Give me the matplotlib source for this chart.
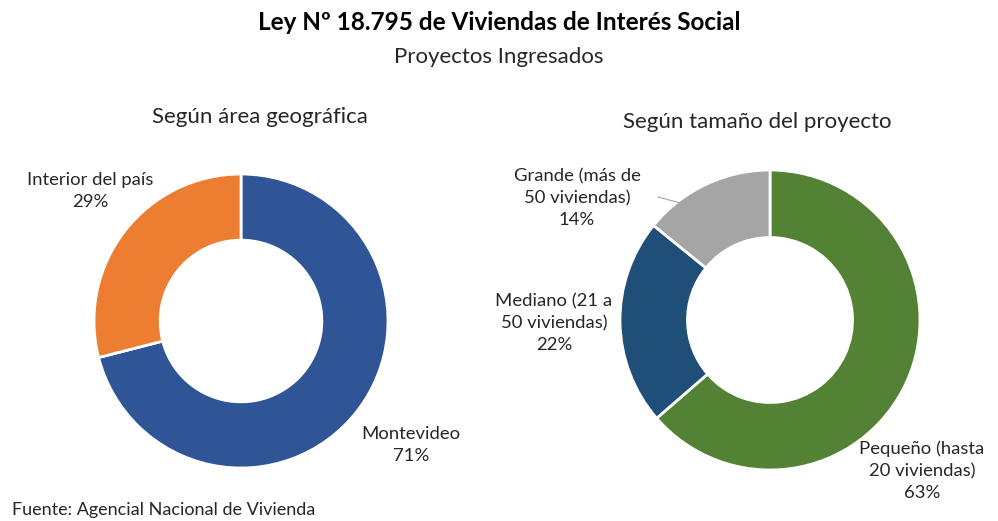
import matplotlib
matplotlib.use("Agg")
import matplotlib.pyplot as plt

plt.rcParams['font.family'] = ['Lato', 'DejaVu Sans']

# datos
area_labels = ["Montevideo", "Interior del país"]
area_values = [71, 29]
area_colors = ["#2F5597", "#ED7D31"]

tam_labels = ["Pequeño (hasta\n20 viviendas)", "Mediano (21 a\n50 viviendas)", "Grande (más de\n50 viviendas)"]
tam_values = [63, 22, 14]
tam_colors = ["#548235", "#1F4E79", "#A5A5A5"]

W, H = 998, 521
fig = plt.figure(figsize=(W / 100, H / 100), dpi=100)


def px(x, y):
    return x / W, 1 - y / H


def donut(cx, cy, r, values, colors):
    ax = fig.add_axes([(cx - r) / W, 1 - (cy + r) / H, 2 * r / W, 2 * r / H])
    ax.pie(values, colors=colors, startangle=90, counterclock=False, radius=1,
           wedgeprops=dict(width=0.45, edgecolor="white", linewidth=2))
    ax.set_xlim(-1, 1)
    ax.set_ylim(-1, 1)
    ax.set_aspect("equal")
    ax.axis("off")
    return ax


ax1 = donut(241, 321, 147, area_values, area_colors)
ax2 = donut(770, 320, 150, tam_values, tam_colors)

fs = 13.3
ls = 1.45
# etiquetas izquierda
fig.text(*px(90, 191), f"{area_labels[1]}\n{area_values[1]}%", ha="center", va="center",
         fontsize=fs, color="#262626", linespacing=ls)
fig.text(*px(411, 445), f"{area_labels[0]}\n{area_values[0]}%", ha="center", va="center",
         fontsize=fs, color="#262626", linespacing=ls)

# etiquetas derecha
fig.text(*px(922, 471), f"{tam_labels[0]}\n{tam_values[0]}%", ha="center", va="center",
         fontsize=fs, color="#262626", linespacing=ls)
fig.text(*px(554, 323), f"{tam_labels[1]}\n{tam_values[1]}%", ha="center", va="center",
         fontsize=fs, color="#262626", linespacing=ls)
fig.text(*px(577, 198), f"{tam_labels[2]}\n{tam_values[2]}%", ha="center", va="center",
         fontsize=fs, color="#262626", linespacing=ls)
# linea guia
x0, y0 = px(658, 197)
x1, y1 = px(684, 204)
fig.add_artist(plt.Line2D([x0, x1], [y0, y1], color="#A6A6A6", linewidth=0.8))

# titulos
fig.text(*px(499, 22), "Ley Nº 18.795 de Viviendas de Interés Social", ha="center", va="center",
         fontsize=17.5, fontweight="bold", color="black")
fig.text(*px(499, 57), "Proyectos Ingresados", ha="center", va="center",
         fontsize=16, color="#262626")
fig.text(*px(260, 117), "Según área geográfica", ha="center", va="center",
         fontsize=16, color="#262626")
fig.text(*px(757, 122), "Según tamaño del proyecto", ha="center", va="center",
         fontsize=16, color="#262626")

fig.text(*px(12, 510), "Fuente: Agencial Nacional de Vivienda", ha="left", va="center",
         fontsize=13, color="#262626")

fig.savefig("out.png", dpi=100)
